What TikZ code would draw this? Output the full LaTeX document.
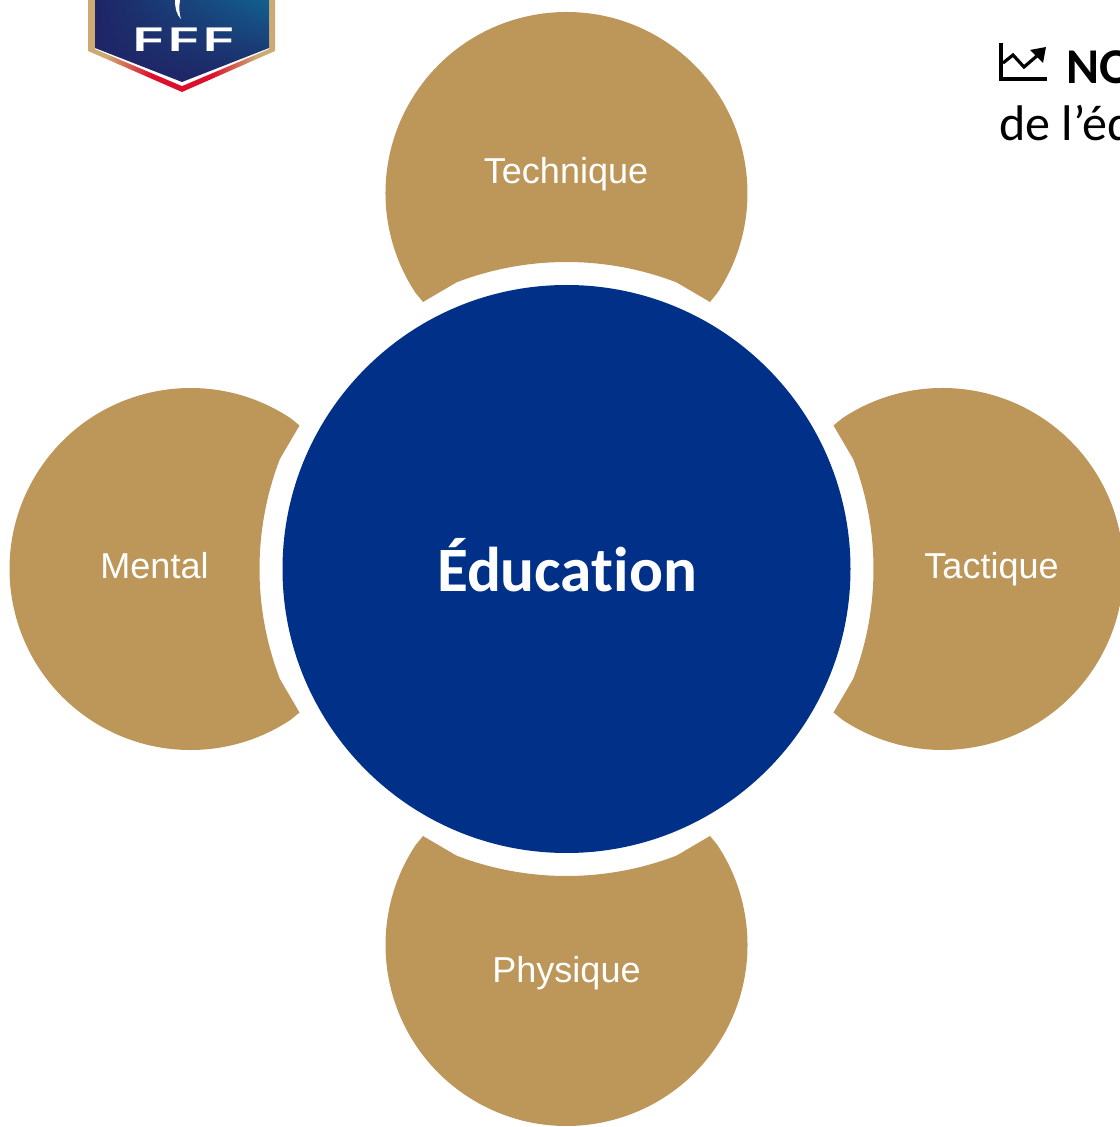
\documentclass[tikz,border=0pt]{standalone}
\usepackage{fontspec}
\usetikzlibrary{shadings}
\setmainfont[Ligatures={NoCommon}]{Carlito}
\newfontfamily\petalfont{Liberation Sans}
\newfontfamily\logofont[FakeStretch=1.45,LetterSpace=14]{Liberation Sans}
\definecolor{petalgold}{HTML}{BD9659}
\definecolor{hubblue}{HTML}{003087}
\definecolor{shieldnavy}{HTML}{1F2566}
\definecolor{shieldteal}{HTML}{12608F}
\definecolor{shieldgold}{HTML}{CDAA72}
\definecolor{shieldred}{HTML}{DC0F2D}
\pgfdeclarehorizontalshading{shieldrim}{100bp}{color(0bp)=(shieldgold); color(30bp)=(shieldgold); color(42bp)=(shieldred); color(58bp)=(shieldred); color(70bp)=(shieldgold); color(100bp)=(shieldgold)}

\begin{document}
\begin{tikzpicture}[x=0.02cm, y=0.02cm]
 \tikzstyle{petal}=[fill=petalgold]
 \tikzstyle{petaltext}=[text=white, anchor=base, font=\fontsize{20.5}{24}\petalfont]
 \tikzstyle{notetext}=[text=black, anchor=base west, inner sep=0pt, font=\fontsize{28.5}{34}\selectfont]
 \tikzstyle{iconline}=[draw=black, line width=1.8pt]

 \useasboundingbox (0, 0) rectangle (1120, 1127);
 \clip (0, 0) rectangle (1120, 1127);

 % four petals round the hub
 \foreach \turn in {0, 90, 180, 270}
  \fill[petal, shift={(566.5, 558)}, rotate=\turn]
   (150.9, 276.1) arc[start angle=-33.5, end angle=213.5, radius=181]
   -- (-143.5, 267) -- (111:307) arc[start angle=111, end angle=69, radius=307]
   -- (143.5, 267) -- cycle;
 \fill[hubblue] (566.5, 558) circle (284);

 \draw (566, 943) node[petaltext] (technique) {Technique};
 \draw (154.5, 548) node[petaltext] (mental) {Mental};
 \draw (991.5, 548) node[petaltext] (tactique) {Tactique};
 \draw (566.5, 144) node[petaltext] (physique) {Physique};
 \draw (567, 535) node[text=white, anchor=base, font=\fontsize{36}{42}\selectfont\bfseries] (education) {Éducation};

 % logo
 \shade[shading=shieldrim]
  (88, 1127) -- (88, 1076) -- (182, 1035) -- (275, 1076) -- (275, 1127) -- cycle;
 \fill[white] (95, 1127) -- (95, 1078) -- (182, 1041) -- (269, 1078) -- (269, 1127) -- cycle;
 \shade[lower left=shieldnavy, upper left=shieldnavy, lower right=shieldnavy, upper right=shieldteal]
  (95, 1127) -- (95, 1079) -- (182, 1045) -- (269, 1079) -- (269, 1127) -- cycle;
 \fill[white] (175, 1127) .. controls (175, 1118) and (177, 1112) .. (181, 1108)
  .. controls (179, 1114) and (179, 1120) .. (180, 1127) -- cycle;
 \draw (183.5, 1087) node[text=white, inner sep=0pt, font=\fontsize{19.5}{22}\logofont\bfseries] (fff) {FFF};

 % note at the top right
 \draw[iconline] (1001, 1084) -- (1001, 1048) -- (1047, 1048);
 \draw[iconline] (1003, 1064) -- (1013, 1072) -- (1024, 1060) -- (1038, 1072);
 \fill[black] (1030, 1077) -- (1046, 1080) -- (1043, 1064) -- cycle;
 \draw (1066, 1043) node[notetext, font=\fontsize{28.5}{34}\selectfont\bfseries] (notehead) {NO};
 \draw (999, 986) node[notetext] (notebody) {de l’éd};
\end{tikzpicture}
\end{document}
